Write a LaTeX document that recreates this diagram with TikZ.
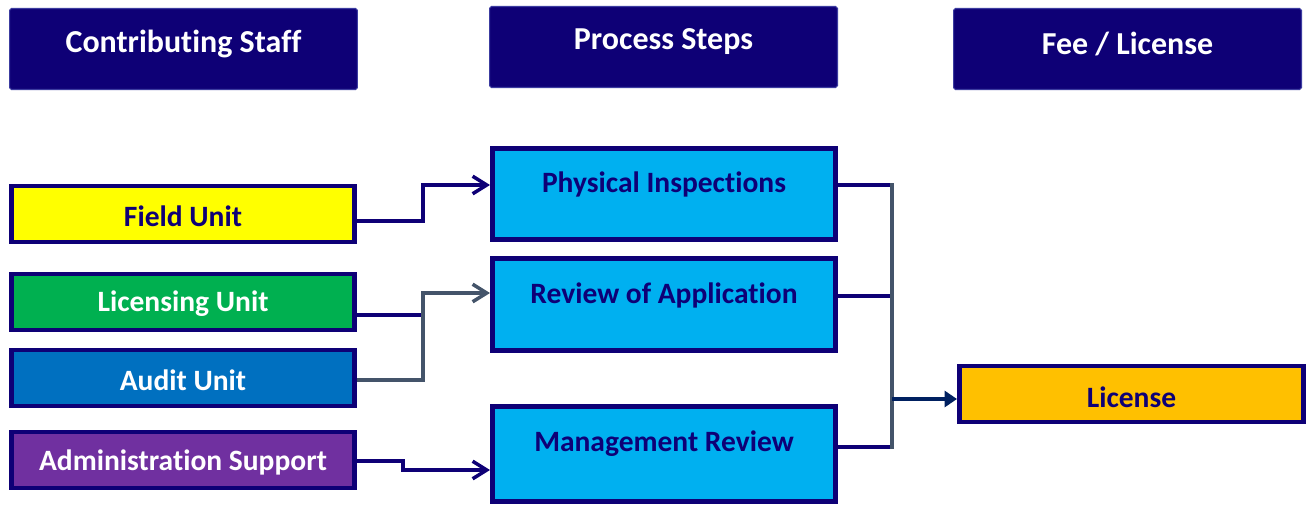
\documentclass[tikz,border=0pt]{standalone}
\usepackage{fontspec}
\setmainfont[Ligatures=NoCommon]{Carlito}
\usetikzlibrary{arrows.meta}
\definecolor{navy}{RGB}{14,0,118}
\definecolor{hdrline}{RGB}{60,60,160}
\definecolor{lblue}{RGB}{0,176,240}
\definecolor{ygreen}{RGB}{0,176,80}
\definecolor{mblue}{RGB}{0,112,192}
\definecolor{purp}{RGB}{112,48,160}
\definecolor{yel}{RGB}{255,255,0}
\definecolor{orng}{RGB}{255,192,0}
\definecolor{slate}{RGB}{68,84,106}
\definecolor{dnavy}{RGB}{0,32,96}
\tikzset{
  hdr/.style={fill=navy, draw=hdrline, line width=0.6pt, rounded corners=1pt, minimum width=6.96cm, minimum height=1.62cm, inner sep=0pt},
  hdrtxt/.style={text=white, font=\fontsize{18.2}{21}\selectfont\bfseries, inner sep=0pt},
  unitbox/.style={draw=navy, line width=2.6pt, minimum width=6.87cm, minimum height=1.128cm, inner sep=0pt, font=\fontsize{16.8}{20}\selectfont\bfseries},
  procbox/.style={draw=navy, fill=lblue, line width=2.6pt, minimum width=6.87cm, minimum height=1.83cm, inner sep=0pt},
  proctxt/.style={text=navy, font=\fontsize{16.8}{20}\selectfont\bfseries, inner sep=0pt},
  conn/.style={draw=navy, line width=2pt},
  gconn/.style={draw=slate, line width=2pt},
  openarrow/.style={-{Straight Barb[length=8pt,width=10pt,line width=2pt]}},
}
\begin{document}
\begin{tikzpicture}[x=0.02cm, y=-0.02cm]
\useasboundingbox (0,0) rectangle (1311,504);
% headers
\node[hdr] (h1) at (183.5,49) {};
\node[hdrtxt] (h1t) at (183.5,44) {Contributing Staff};
\node[hdr] (h2) at (663.5,47) {};
\node[hdrtxt] (h2t) at (663.5,42) {Process Steps};
\node[hdr] (h3) at (1127.5,49) {};
\node[hdrtxt] (h3t) at (1127.5,44) {Fee / License};
% units
\node[unitbox, fill=yel] (fu) at (183,214) {};
\node[text=navy, font=\fontsize{16.8}{20}\selectfont\bfseries] (fut) at (183,216) {Field Unit};
\node[unitbox, fill=ygreen] (lu) at (183,302) {};
\node[text=white, font=\fontsize{16.8}{20}\selectfont\bfseries] (lut) at (183,304) {Licensing Unit};
\node[unitbox, fill=mblue] (au) at (183,378) {};
\node[text=white, font=\fontsize{16.8}{20}\selectfont\bfseries] (aut) at (183,380) {Audit Unit};
\node[unitbox, fill=purp] (as) at (183,460) {};
\node[text=white, font=\fontsize{16.8}{20}\selectfont\bfseries] (ast) at (183,462) {Administration Support};
% process
\node[procbox] (pi) at (664,194) {};
\node[proctxt] (pit) at (664,184) {Physical Inspections};
\node[procbox] (ra) at (664,304.5) {};
\node[proctxt] (rat) at (664,295) {Review of Application};
\node[procbox, minimum height=1.9cm] (mr) at (664,454) {};
\node[proctxt] (mrt) at (664,444) {Management Review};
% license
\node[unitbox, fill=orng, minimum width=6.89cm] (li) at (1131.5,394) {};
\node[text=navy, font=\fontsize{16.8}{20}\selectfont\bfseries] (lit) at (1131.5,397) {License};
% left connectors
\draw[conn, openarrow] (fu.east|-0,221) -- (423,221) -- (423,185) -- (pi.west|-0,185);
\draw[conn] (lu.east|-0,315) -- (423,315);
\draw[gconn, openarrow] (au.east|-0,380) -- (423,380) -- (423,293) -- (ra.west|-0,293);
\draw[conn, openarrow] (as.east|-0,461) -- (403,461) -- (403,470) -- (mr.west|-0,470);
% right connectors
\coordinate (j) at (892,399);
\draw[conn] (pi.east|-0,185) -- (892,185);
\draw[conn] (ra.east|-0,296) -- (892,296);
\draw[conn] (mr.east|-0,447) -- (892,447);
\draw[gconn, line cap=rect] (892,185) -- (892,447);
\draw[draw=dnavy, line width=2.6pt, -{Triangle[length=7pt,width=9pt]}] (j) -- (li.west|-j);
\end{tikzpicture}
\end{document}
